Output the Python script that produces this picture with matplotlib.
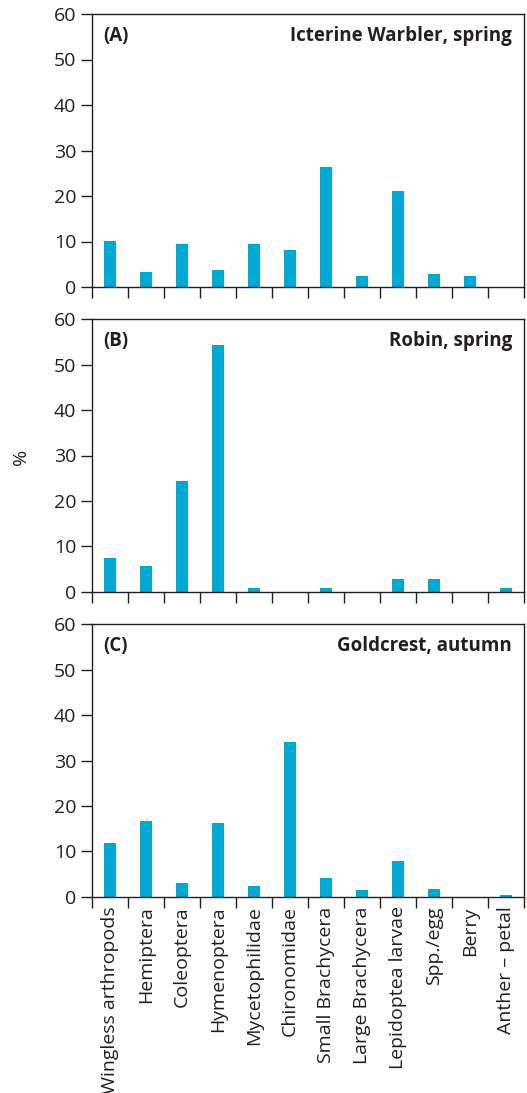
import matplotlib
matplotlib.use("Agg")
import matplotlib.pyplot as plt
import numpy as np

categories = ["Wingless arthropods", "Hemiptera", "Coleoptera", "Hymenoptera",
              "Mycetophilidae", "Chironomidae", "Small Brachycera", "Large Brachycera",
              "Lepidoptea larvae", "Spp./egg", "Berry", "Anther \u2013 petal"]

icterine_spring = [10.1, 3.3, 9.4, 3.7, 9.4, 8.2, 26.4, 2.4, 21.1, 2.9, 2.4, 0.0]
robin_spring = [7.5, 5.7, 24.4, 54.4, 0.9, 0.0, 0.9, 0.0, 2.9, 2.9, 0.0, 0.9]
goldcrest_autumn = [11.9, 16.7, 3.1, 16.3, 2.4, 34.1, 4.2, 1.5, 7.9, 1.8, 0.0, 0.4]

panel_tags = ["(A)", "(B)", "(C)"]
panel_titles = ["Icterine Warbler, spring", "Robin, spring", "Goldcrest, autumn"]
yticks = [0, 10, 20, 30, 40, 50, 60]

ink = "#231f20"
bar_color = "#00a9d4"

plt.rcParams["font.family"] = ["Open Sans", "DejaVu Sans"]
plt.rcParams["text.color"] = ink
plt.rcParams["axes.edgecolor"] = ink
plt.rcParams["xtick.color"] = ink
plt.rcParams["ytick.color"] = ink

W, H = 527, 1093
fig = plt.figure(figsize=(W / 100, H / 100), dpi=100)

left_px, right_px = 92.3, 524.0
panels_px = [(14.0, 287.0), (319.3, 591.7), (624.3, 896.7)]
series = [icterine_spring, robin_spring, goldcrest_autumn]

x = np.arange(len(categories))
for i, (top_px, bot_px) in enumerate(panels_px):
    ax = fig.add_axes([left_px / W, 1 - bot_px / H,
                       (right_px - left_px) / W, (bot_px - top_px) / H])
    ax.bar(x, series[i], width=0.34, color=bar_color, linewidth=0)
    ax.set_xlim(-0.5, len(categories) - 0.5)
    ax.set_ylim(0, 60)
    ax.set_yticks(yticks)
    ax.set_yticklabels([str(v) for v in yticks], fontsize=14)
    ax.tick_params(axis="y", direction="out", length=8, width=1.0, pad=3.5)
    # category boundaries carry the ticks
    ax.set_xticks(np.arange(len(categories) + 1) - 0.5)
    ax.set_xticklabels([])
    ax.tick_params(axis="x", which="major", direction="out", length=8, width=1.0)
    if i == 2:
        ax.set_xticks(x, minor=True)
        ax.set_xticklabels(categories, minor=True, rotation=90, fontsize=14,
                           va="top", ha="center")
        ax.tick_params(axis="x", which="minor", length=0, pad=7)
    for sp in ax.spines.values():
        sp.set_linewidth(1.0)
    ax.text(0.025, 0.92, panel_tags[i], transform=ax.transAxes, fontsize=13.5,
            fontweight="bold", ha="left", va="center")
    ax.text(0.972, 0.92, panel_titles[i], transform=ax.transAxes, fontsize=13.5,
            fontweight="bold", ha="right", va="center")

fig.text(21 / W, 1 - 457 / H, "%", rotation=90, fontsize=14, ha="center", va="center")

fig.savefig("out.png", dpi=100)
